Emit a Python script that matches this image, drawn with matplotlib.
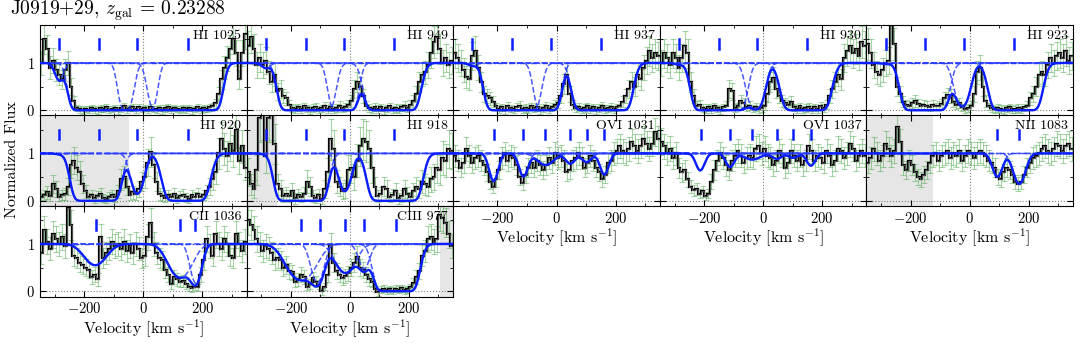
import numpy as np
import matplotlib
matplotlib.use("Agg")
import matplotlib.pyplot as plt
from matplotlib.ticker import MultipleLocator

plt.rcParams['font.family'] = 'serif'
plt.rcParams['font.serif'] = ['cmr10', 'DejaVu Serif']
plt.rcParams['mathtext.fontset'] = 'cm'
plt.rcParams['axes.formatter.use_mathtext'] = True
plt.rcParams['axes.unicode_minus'] = True

# binned flux, 10 km/s bins from -350 to 350
hi1025_flux = [1.0, 1.5, 1.3, 0.9, 1.05, 0.85, 0.75, 0.65, 0.85, 1.0, 0.5, 0.2, 0.05, 0.02,
               0.00, 0.03, 0.01, 0.05, 0.02, 0.00, 0.04, 0.03, 0.06, 0.01, 0.03, 0.05, 0.00, 0.04, 0.08,
               0.02, 0.05, 0.06, 0.02, 0.07, 0.03, 0.05, 0.01, 0.06, 0.03, 0.02, 0.05, 0.00, 0.04, 0.06,
               0.02, 0.05, 0.03, 0.01, 0.04, 0.02, 0.05, 0.00, 0.03, 0.06, 0.02, 0.04, 0.03, 0.06, 0.08,
               0.15, 0.35, 0.65, 0.9, 1.1, 1.3, 1.5, 1.2, 0.65, 1.2, 1.6]
hi949_flux = [1.35, 1.55, 1.3, 0.95, 1.1, 0.95, 1.05, 0.8, 0.6, 0.75, 0.4, 0.45, 0.3, 0.25, 0.12, 0.05,
              0.03, 0.06, 0.02, 0.08, 0.04, 0.01, 0.05, 0.07, 0.02, 0.04, 0.09, 0.03, 0.06, 0.02, 0.05,
              0.1, 0.04, 0.07, 0.12, 0.2,
              0.45, 0.6, 0.5, 0.3, 0.1,
              0.05, 0.02, 0.07, 0.03, 0.06, 0.01, 0.04, 0.08, 0.02, 0.05, 0.03, 0.06, 0.1, 0.04, 0.12, 0.2,
              0.35, 0.6, 0.75, 0.8, 0.95, 1.2, 1.45, 1.55, 1.3, 1.0, 1.1, 0.95, 1.05]
hi937_flux = [1.2, 1.1, 1.0, 0.85, 0.7, 0.65, 1.15, 1.25, 0.9, 0.6, 0.35, 0.3, 0.25, 0.18, 0.08,
              0.03, 0.06, 0.01, 0.09, 0.04, 0.02, 0.07, 0.1, 0.03, 0.05, 0.02, 0.08, 0.04, 0.06, 0.01,
              0.05, 0.09, 0.03, 0.07, 0.12, 0.15,
              0.3, 0.55, 0.75, 0.35, 0.12,
              0.04, 0.07, 0.02, 0.05, 0.08, 0.03, 0.06, 0.01, 0.05, 0.09, 0.03, 0.04, 0.07, 0.02, 0.06, 0.1, 0.18,
              0.3, 0.45, 0.6, 0.5, 0.75, 0.65, 0.9, 1.05, 1.25, 1.1, 1.2, 1.15]
hi930_flux = [1.0, 1.2, 1.1, 0.95, 1.2, 1.1, 0.9, 1.1, 1.35, 1.2, 0.6, 0.3, 0.1, 0.12,
              0.05, 0.02, 0.06, 0.03, 0.08, 0.04, 0.01, 0.06, 0.1, 0.45, 0.4,
              0.05, 0.08, 0.2, 0.15, 0.06, 0.1, 0.04, 0.07, 0.02, 0.05, 0.1,
              0.35, 0.6, 0.68, 0.45, 0.3, 0.2, 0.15, 0.12, 0.18,
              0.06, 0.03, 0.08, 0.02, 0.05, 0.07, 0.03, 0.06, 0.02, 0.09, 0.05, 0.12,
              0.3, 0.45, 0.6, 0.75, 0.65, 1.1, 1.25, 1.35, 1.2, 1.3, 1.15, 1.45, 1.35]
hi923_flux = [1.4, 1.2, 0.95, 0.8, 0.75, 0.85, 1.0, 1.05, 1.8, 1.4, 0.5, 0.35, 0.18, 0.12,
              0.1, 0.15, 0.2, 0.14, 0.08, 0.12, 0.1, 0.06, 0.12, 0.08, 0.1, 0.14,
              0.25, 0.32, 0.3, 0.18, 0.12, 0.15, 0.06, 0.03, 0.05, 0.1,
              0.35, 0.8, 0.9, 0.5, 0.2, 0.08,
              0.04, 0.02, 0.05, 0.03, 0.01, 0.04, 0.06, 0.02, 0.03, 0.05, 0.02, 0.06, 0.1,
              0.25, 0.35, 0.5, 0.75, 0.8, 0.75, 0.95, 1.1, 1.0, 1.15, 1.2, 1.1, 1.25, 1.05, 1.15]
hi920_flux = [0.08, 0.12, 0.18, 0.1, 0.35, 0.25, 0.08, 0.12, 0.15, 0.3, 0.75, 0.85, 0.7, 0.6, 0.35, 0.2,
              0.08, 0.12, 0.05, 0.1, 0.14, 0.06, 0.04, 0.09, 0.12, 0.07,
              0.2, 0.45, 0.5, 0.3, 0.12, 0.18, 0.15, 0.25, 0.4,
              0.5, 0.8, 1.03, 0.75, 0.4, 0.15,
              0.1, 0.06, 0.12, 0.08, 0.15, 0.05, 0.1, 0.13, 0.07, 0.04, 0.12, 0.09, 0.15, 0.08, 0.12, 0.2,
              0.3, 0.45, 0.6, 1.0, 1.3, 1.1, 0.95, 1.2, 1.05, 1.5, 0.85, 1.15, 0.7]
hi918_flux = [0.6, 0.35, 0.25, 0.65, 1.75, 1.8, 0.95, 1.75, 1.8, 1.2, 0.35, 0.25, 0.1, 0.15,
              0.1, 0.2, 0.05, 0.12, 0.08, 0.15, 0.4, 0.3, 0.1, 0.06, 0.12, 0.04,
              0.25, 0.6, 1.3, 1.1, 0.4, 0.3, 0.2, 0.25, 0.65, 0.7, 0.5, 0.85, 1.15, 1.3, 1.25, 1.1, 0.7, 0.3,
              0.1, 0.15, 0.3, 0.25, 0.08, 0.12, 0.2, 0.05, 0.1, 0.25, 0.15, 0.08, 0.2,
              0.3, 0.25, 0.4, 0.35, 0.3, 0.45, 0.5, 0.7, 0.65, 0.9, 0.85, 1.1, 1.05]
ovi1031_flux = [0.95, 0.85, 0.7, 0.8, 1.1, 0.95, 0.8, 0.9, 0.95, 0.85,
                0.75, 0.6, 0.4, 0.3, 0.45, 0.65, 0.9, 1.0, 0.85, 0.95,
                0.9, 0.75, 0.5, 0.38, 0.55, 0.7, 0.8, 0.7, 0.85, 0.75,
                0.65, 0.75, 0.9, 0.8, 1.0, 0.9, 0.95, 0.85, 0.6, 0.65,
                0.85, 0.9, 1.0, 0.9, 0.7, 0.8, 0.95, 0.85, 0.7, 0.6,
                0.45, 0.55, 0.8, 0.85, 1.0, 1.05, 1.15, 1.05, 1.0, 1.1,
                1.25, 1.15, 1.05, 1.15, 1.3, 1.2, 1.1, 1.2, 1.45, 1.3]
ovi1037_flux = [1.25, 1.15, 1.0, 1.1, 0.9, 1.0, 0.7, 0.6, 0.65, 0.45,
                0.3, 0.22, 0.25, 0.15, 0.2, 0.1, 0.15, 0.4, 0.65, 0.85,
                1.0, 0.9, 0.75, 0.65, 0.85, 0.95, 1.05, 0.95, 0.8, 0.9,
                0.95, 0.9, 1.1, 1.15, 1.0, 1.1, 0.95, 0.9, 0.75, 0.85,
                1.05, 0.95, 0.7, 0.8, 1.05, 0.95, 0.85, 0.95, 0.75, 0.85,
                1.15, 1.05, 0.85, 0.95, 0.9, 0.8, 1.05, 0.95, 0.75, 0.85,
                1.1, 1.05, 0.9, 1.0, 1.2, 1.1, 0.85, 0.95, 1.05, 0.95]
nii1083_flux = [0.8, 0.9, 1.1, 1.0, 0.85, 0.95, 1.2, 1.1, 0.95, 1.05,
                1.55, 1.25, 0.75, 0.65, 0.85, 0.75, 0.6, 0.5, 0.45, 0.55,
                0.65, 0.8, 0.95, 1.0, 0.85, 0.95, 1.0, 1.05, 0.9, 1.0,
                0.95, 1.05, 0.85, 0.95, 1.05, 1.0, 0.9, 1.0, 1.05, 1.0,
                0.95, 0.85, 0.8, 0.7, 0.5, 0.45, 0.6, 0.7, 0.65, 0.55,
                0.4, 0.35, 0.4, 0.55, 0.7, 0.8, 0.9, 0.95, 1.0, 1.1,
                1.15, 1.05, 1.0, 1.1, 1.2, 1.15, 1.05, 1.15, 1.2, 1.1]
cii1036_flux = [0.8, 1.3, 1.05, 0.9, 1.2, 1.1, 1.0, 1.15, 0.95, 1.75,
                1.4, 0.75, 0.7, 0.6, 0.55, 0.5, 0.45, 0.3, 0.35, 0.25,
                1.15, 0.7, 0.8, 0.9, 1.05, 0.95, 1.0, 0.9, 1.05, 0.85,
                0.95, 0.8, 1.0, 0.9, 0.7, 0.75, 1.15, 1.45, 1.0, 0.8,
                0.7, 0.65, 0.45, 0.35, 0.15, 0.3, 0.25, 0.2, 0.22, 0.15,
                0.08, 0.06, 0.1, 0.08, 0.35, 0.65, 1.1, 0.95, 0.75, 1.2,
                1.0, 0.9, 1.1, 1.0, 0.75, 0.7, 1.2, 1.0, 0.85, 1.05]
ciii977_flux = [1.5, 1.4, 1.3, 1.1, 1.0, 0.85, 0.95, 0.9, 0.8, 0.65,
                0.7, 0.65, 0.5, 0.55, 0.42, 0.4, 0.2, 0.25, 0.35, 0.3,
                0.1, 0.15, 0.28, 0.2, 0.14, 0.0, 0.1, 0.35, 0.98, 0.6,
                0.42, 0.35, 0.28, 0.32, 0.38, 0.5, 0.6, 0.73, 0.5, 0.45,
                0.35, 0.25, 0.2, 0.05, -0.02, 0.03, 0.05, 0.02, 0.04, 0.01,
                0.05, 0.03, 0.06, 0.02, 0.04, 0.08, 0.17, 0.3, 0.42, 0.75,
                0.85, 1.1, 1.15, 1.05, 1.1, 1.6, 1.55, 1.45, 1.2, 0.95]

# typical 1-sigma error at the continuum
err_levels = [0.25, 0.28, 0.28, 0.28, 0.28, 0.32, 0.38, 0.24, 0.25, 0.24, 0.26, 0.26]

# component centroids (tick marks)
hi_ticks = [-285, -150, -20, 150]
ovi_ticks = [-212, -112, -38, 47, 102, 162]
nii_ticks = [94, 168]
cii_ticks = [-160, 124, 175]
ciii_ticks = [-165, -103, -15, 48, 155]

# fitted components: velocity, b, central optical depth
hi1025_v, hi1025_b, hi1025_tau = [-285, -144, -19, 142], [15, 38, 25, 42], [0.6, 5590, 1405, 10000]
hi949_v, hi949_b, hi949_tau = [-285, -147, -22, 143], [15, 38, 25, 42], [0.15, 925, 87, 200]
hi937_v, hi937_b, hi937_tau = [-285, -149, -30, 155], [15, 38, 25, 42], [0.08, 706, 38, 453]
hi930_v, hi930_b, hi930_tau = [-285, -149, -25, 145], [15, 38, 25, 42], [0.05, 614, 4.9, 68]
hi923_v, hi923_b, hi923_tau = [-285, -152, -25, 155], [15, 38, 25, 42], [0.03, 131, 2.9, 116]
hi920_v, hi920_b, hi920_tau = [-285, -160, -20, 145], [15, 38, 22, 42], [0.02, 188, 2.3, 41]
hi918_v, hi918_b, hi918_tau = [-285, -165, -17, 152], [15, 38, 22, 42], [0.02, 407, 1.9, 143]
ovi1031_v, ovi1031_b, ovi1031_tau = [-213, -112, -37, 47, 102, 162], [15, 15, 35, 18, 18, 15], [1.2, 0.9, 0.3, 0.3, 0.25, 0.8]
ovi1037_v, ovi1037_b, ovi1037_tau = [-213, -112, -37, 47, 102, 162], [15, 15, 35, 18, 18, 15], [0.6, 0.45, 0.15, 0.15, 0.12, 0.4]
nii1083_v, nii1083_b, nii1083_tau = [94, 168], [18, 22], [0.85, 1.2]
cii1036_v, cii1036_b, cii1036_tau = [-163, 125, 178], [46, 45, 18], [0.62, 1.3, 2.3]
ciii977_v, ciii977_b, ciii977_tau = [-165, -110, -15, 48, 157], [55, 22, 40, 20, 38], [1.5, 2.0, 1.0, 0.9, 73]

# masked (blended) velocity ranges
hi920_mask = [(-350, -50)]
hi918_mask = [(-350, -248)]
nii1083_mask = [(-350, -125)]
ciii977_mask = [(305, 350)]

# name, row, col, flux, ticks, comps, masks, error
panels = [
    ("HI 1025", 0, 0, hi1025_flux, hi_ticks, (hi1025_v, hi1025_b, hi1025_tau), [], err_levels[0]),
    ("HI 949", 0, 1, hi949_flux, hi_ticks, (hi949_v, hi949_b, hi949_tau), [], err_levels[1]),
    ("HI 937", 0, 2, hi937_flux, hi_ticks, (hi937_v, hi937_b, hi937_tau), [], err_levels[2]),
    ("HI 930", 0, 3, hi930_flux, hi_ticks, (hi930_v, hi930_b, hi930_tau), [], err_levels[3]),
    ("HI 923", 0, 4, hi923_flux, hi_ticks, (hi923_v, hi923_b, hi923_tau), [], err_levels[4]),
    ("HI 920", 1, 0, hi920_flux, hi_ticks, (hi920_v, hi920_b, hi920_tau), hi920_mask, err_levels[5]),
    ("HI 918", 1, 1, hi918_flux, hi_ticks, (hi918_v, hi918_b, hi918_tau), hi918_mask, err_levels[6]),
    ("OVI 1031", 1, 2, ovi1031_flux, ovi_ticks, (ovi1031_v, ovi1031_b, ovi1031_tau), [], err_levels[7]),
    ("OVI 1037", 1, 3, ovi1037_flux, ovi_ticks, (ovi1037_v, ovi1037_b, ovi1037_tau), [], err_levels[8]),
    ("NII 1083", 1, 4, nii1083_flux, nii_ticks, (nii1083_v, nii1083_b, nii1083_tau), nii1083_mask, err_levels[9]),
    ("CII 1036", 2, 0, cii1036_flux, cii_ticks, (cii1036_v, cii1036_b, cii1036_tau), [], err_levels[10]),
    ("CIII 977", 2, 1, ciii977_flux, ciii_ticks, (ciii977_v, ciii977_b, ciii977_tau), ciii977_mask, err_levels[11]),
]
bottom_panels = [(2, 0), (2, 1), (1, 2), (1, 3), (1, 4)]

# model grid and line spread function
vgrid = np.arange(-420, 420.1, 0.5)
lsf_sigma = 9.0
kx = np.arange(-40, 40.1, 0.5)
kernel = np.exp(-0.5 * (kx / lsf_sigma) ** 2)
kernel /= kernel.sum()


def convolve(f):
    return np.convolve(f, kernel, mode='same')


def tau_profile(v0, b, tau0):
    return tau0 * np.exp(-((vgrid - v0) / b) ** 2)


W, H = 1080, 343
fig = plt.figure(figsize=(W / 100, H / 100), dpi=100)
col_left = 40
col_w = 206.6
row_top = 25
row_h = 90.5

for name, r, c, flux, ticks, comps, masks, err in panels:
    x0 = col_left + c * col_w
    y0 = row_top + r * row_h
    ax = fig.add_axes([x0 / W, 1 - (y0 + row_h) / H, col_w / W, row_h / H])

    flux = np.array(flux)
    edges = np.linspace(-350, 350, len(flux) + 1)
    centers = 0.5 * (edges[1:] + edges[:-1])
    yerr = err * np.sqrt(np.clip(flux, 0.08, None))

    for lo, hi in masks:
        ax.axvspan(lo, hi, color='0.9', zorder=0, lw=0)

    ax.errorbar(centers, flux, yerr=yerr, fmt='none', ecolor='#3fa33f', alpha=0.45,
                elinewidth=0.8, capsize=2, capthick=0.8, zorder=1)
    ax.stairs(flux, edges, baseline=None, color='k', lw=1.6, zorder=2)
    ax.stairs(flux, edges, baseline=None, color='#6e6e6e', lw=0.5, zorder=2)

    ax.axhline(0, color='0.5', ls=':', lw=0.8, zorder=1)
    ax.axvline(0, color='0.5', ls=':', lw=0.8, zorder=1)

    cv, cb, ct = comps
    total = np.zeros_like(vgrid)
    for v0, b, t0 in zip(cv, cb, ct):
        tau = tau_profile(v0, b, t0)
        total += tau
        ax.plot(vgrid, convolve(np.exp(-tau)), color='#2a3cff', ls='--', lw=1.1, alpha=0.85, zorder=3)
    ax.plot(vgrid, convolve(np.exp(-total)), color='#0a1eff', lw=1.7, zorder=4)
    ax.axhline(1, color='#2a3cff', ls=(0, (4, 1.5, 1, 1.5)), lw=1.0, zorder=3)

    for t in ticks:
        ax.plot([t, t], [1.3, 1.5], color='#0a1eff', lw=1.8, zorder=4)

    ax.text(0.975, 0.95, name, transform=ax.transAxes, ha='right', va='top', fontsize=10)

    ax.set_xlim(-350, 350)
    ax.set_ylim(-0.11, 1.8)
    ax.xaxis.set_major_locator(MultipleLocator(200))
    ax.xaxis.set_minor_locator(MultipleLocator(100))
    ax.set_yticks([0, 1])
    ax.yaxis.set_minor_locator(MultipleLocator(0.5))
    ax.tick_params(which='both', direction='in', top=True, right=True, labelsize=10.5)
    ax.tick_params(which='major', length=4)
    ax.tick_params(which='minor', length=2.5)

    if c != 0:
        ax.set_yticklabels([])
    if (r, c) in bottom_panels:
        ax.set_xlabel(r"Velocity [km s$^{-1}$]", fontsize=11.5, labelpad=1)
    else:
        ax.set_xticklabels([])

fig.text(0.011, 0.535, "Normalized Flux", rotation=90, ha='center', va='center', fontsize=11.5)
fig.text(0.009, 0.968, r"J0919+29, $z_{\rm gal}$ = 0.23288", ha='left', va='center', fontsize=14)

fig.savefig("out.png", dpi=100)
